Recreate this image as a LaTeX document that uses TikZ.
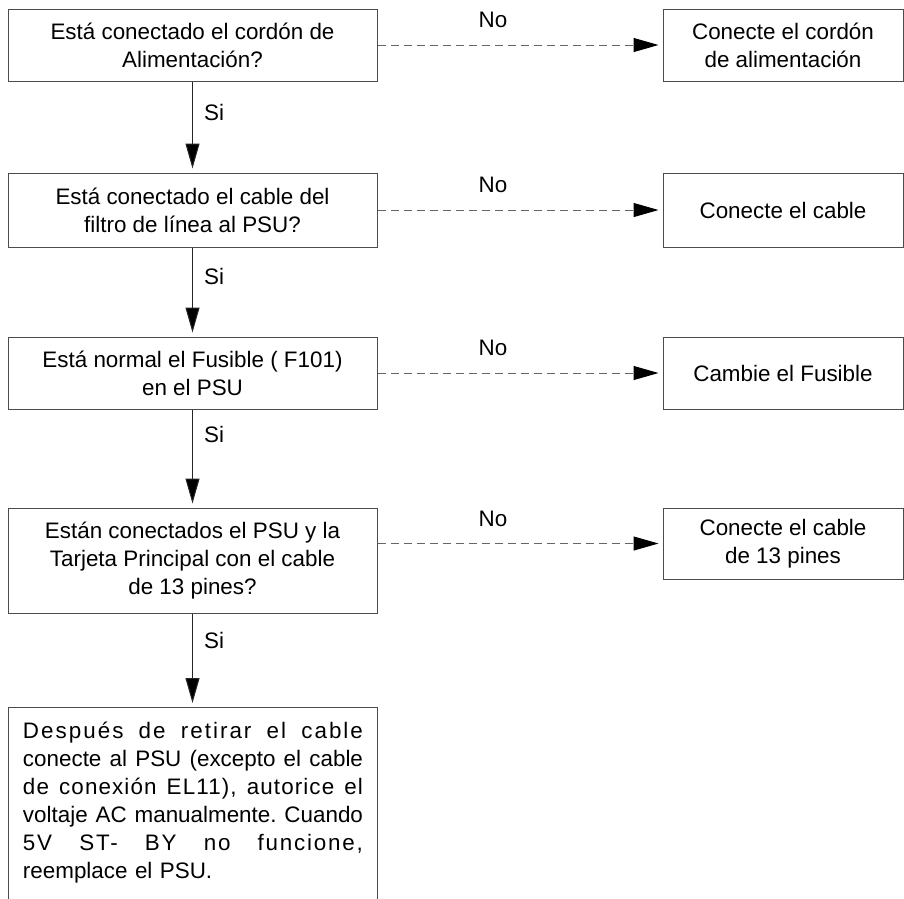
\documentclass[tikz,border=0pt]{standalone}
\usepackage{fontspec}
\setmainfont{Liberation Sans}
\usetikzlibrary{arrows.meta}
\newcommand{\jline}[2]{\leavevmode\hbox to 340pt{\addfontfeature{LetterSpace=#1}#2}}
\begin{document}
\begin{tikzpicture}[x=1pt,y=-1pt,
  txt/.style={font=\fontsize{22.4}{28}\selectfont},
  box/.style={txt, draw=black!70, line width=1pt, inner sep=0pt, align=center, minimum width=#1},
  box/.default=369pt,
  yesarrow/.style={draw=black!85, line width=1pt, -{Triangle[length=25pt,width=14pt,fill=black]}, shorten >=4pt},
  noarrow/.style={draw=black!60, line width=1pt, dash pattern=on 8pt off 5pt, -{Triangle[length=25pt,width=14pt,fill=black,color=black]}, shorten >=4pt},
  lbl/.style={txt, inner sep=0pt}]
\useasboundingbox (0,0) rectangle (904,898);

% left column
\node[box, minimum height=72pt] (L1) at (192.5,45) {Está conectado el cordón de\\Alimentación?};
\node[box, minimum height=74pt] (L2) at (192.5,210) {Está conectado el cable del\\filtro de línea al PSU?};
\node[box, minimum height=72pt] (L3) at (192.5,373) {Está normal el Fusible ( F101)\\en el PSU};
\node[box, minimum height=105pt] (L4) at (192.5,560.5) {Están conectados el PSU y la\\Tarjeta Principal con el cable\\de 13 pines?};
\coordinate (L5top) at (192.5,707);
\draw[draw=black!70, line width=1pt] (8,899) -- (8,707) -- (377,707) -- (377,899);
\node[txt, text width=340pt, inner sep=0pt, align=left] (L5) at (193,803) {%
\jline{9}{Después\hfill de\hfill retirar\hfill el\hfill cable}\\
\jline{0}{conecte\hfill al\hfill PSU\hfill (excepto\hfill el\hfill cable}\\
\jline{5}{de\hfill conexión\hfill EL11),\hfill autorice\hfill el}\\
\jline{0}{voltaje\hfill AC\hfill manualmente.\hfill Cuando}\\
\jline{8}{5V\hfill ST-\hfill BY\hfill no\hfill funcione,}\\
reemplace el PSU.};

% right column
\node[box=240pt, minimum height=72pt] (R1) at (783,45) {Conecte el cordón\\de alimentación};
\node[box=240pt, minimum height=74pt] (R2) at (783,210) {Conecte el cable};
\node[box=240pt, minimum height=72pt] (R3) at (783,373) {Cambie el Fusible};
\node[box=240pt, minimum height=71pt] (R4) at (783,543.5) {Conecte el cable\\de 13 pines};

% yes arrows
\draw[yesarrow] (L1.south) -- (L2.north);
\draw[yesarrow] (L2.south) -- (L3.north);
\draw[yesarrow] (L3.south) -- (L4.north);
\draw[yesarrow] (L4.south) -- (L5top);
\node[lbl, anchor=west] (S1) at (204,112) {Si};
\node[lbl, anchor=west] (S2) at (204,276) {Si};
\node[lbl, anchor=west] (S3) at (204,434) {Si};
\node[lbl, anchor=west] (S4) at (204,640) {Si};

% no arrows
\draw[noarrow] (L1.east) -- (R1.west);
\draw[noarrow] (L2.east) -- (R2.west);
\draw[noarrow] (L3.east) -- (R3.west);
\draw[noarrow] (L4.east |- R4.west) -- (R4.west);
\node[lbl] (N1) at (493,20) {No};
\node[lbl] (N2) at (493,185) {No};
\node[lbl] (N3) at (493,348) {No};
\node[lbl] (N4) at (493,519) {No};
\end{tikzpicture}
\end{document}
